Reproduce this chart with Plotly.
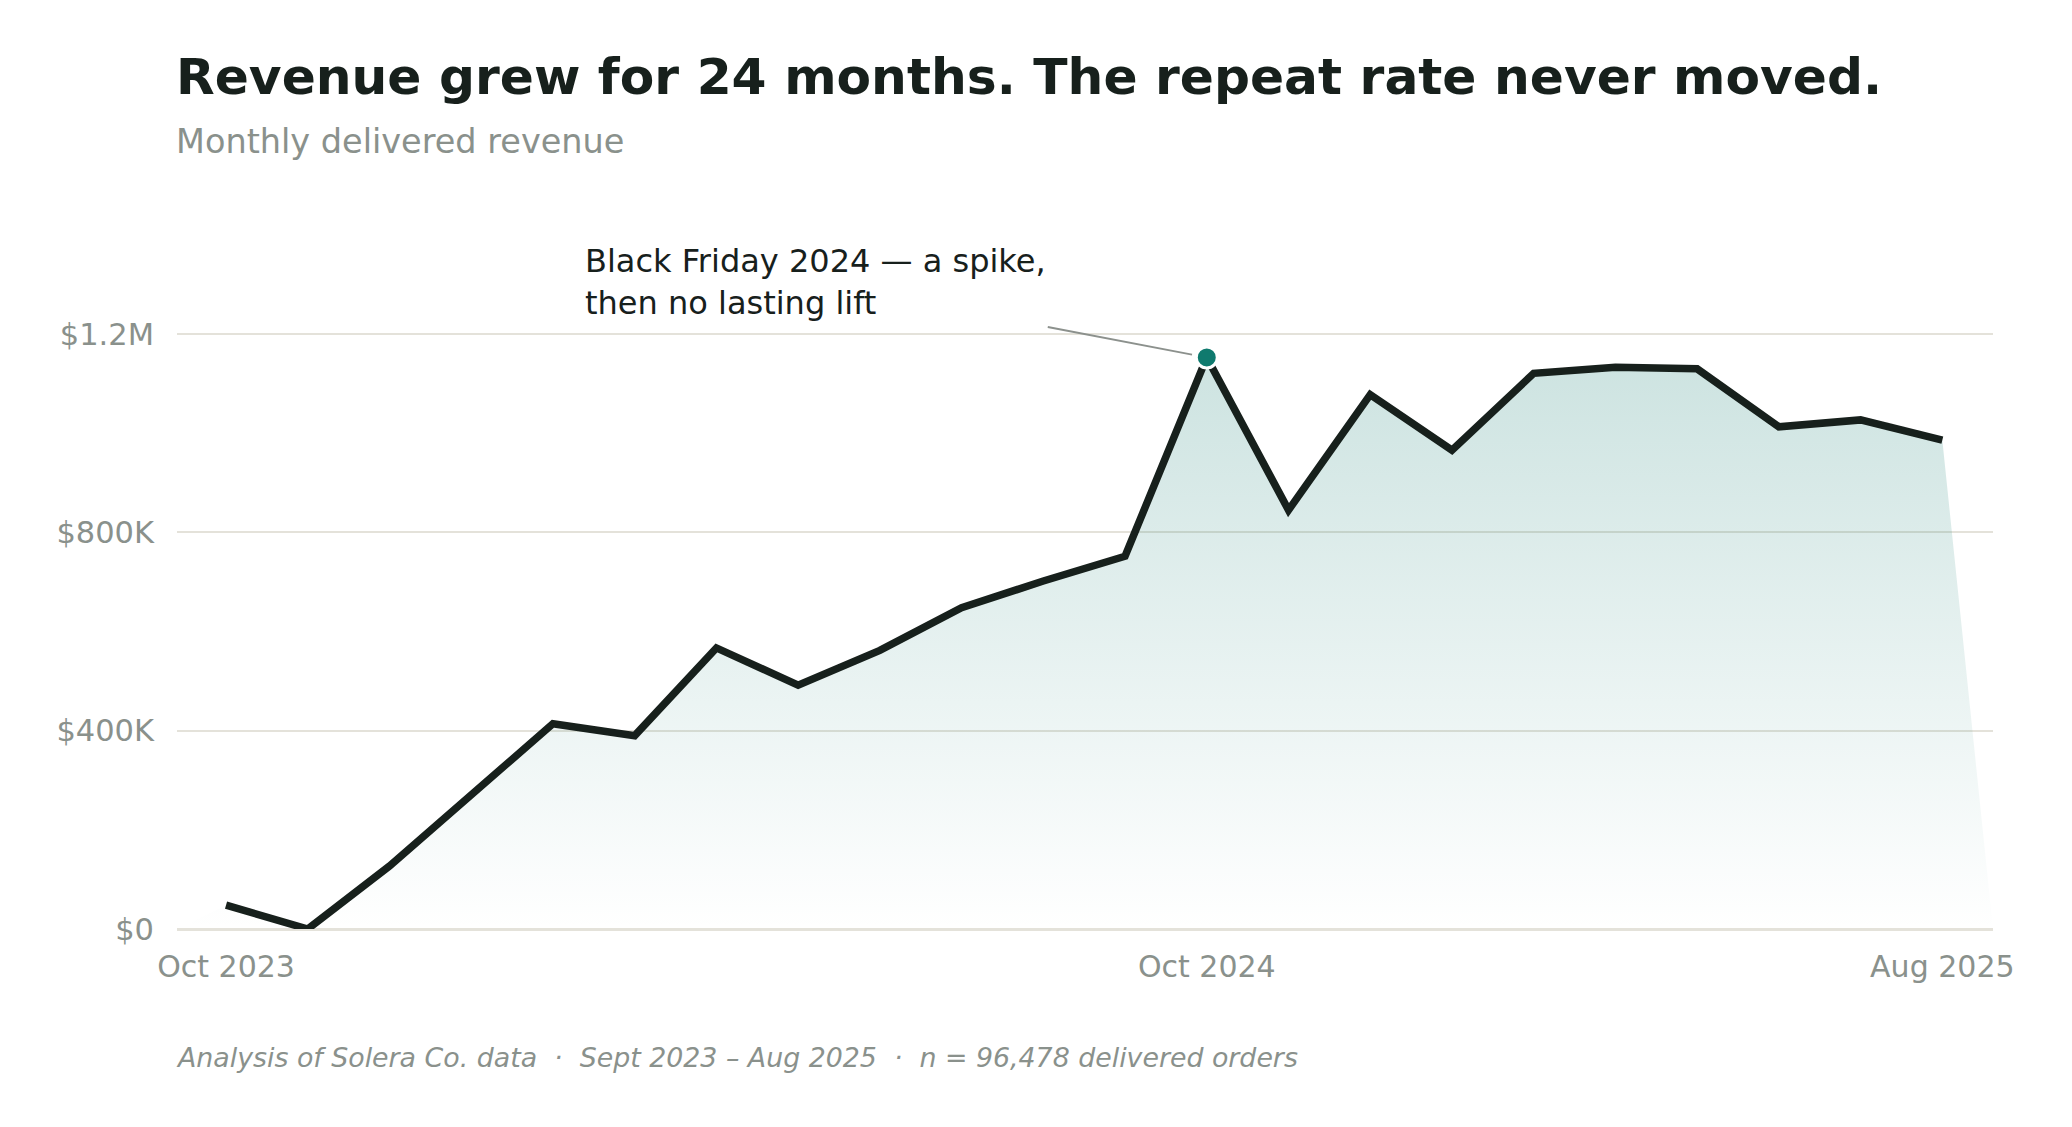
import numpy as np
import plotly.graph_objects as go

# ---- data (monthly delivered revenue, USD) ----
revenue = [48000, 0, 127000, 271000, 414000, 390000, 567000, 492000, 562000,
           648000, 702000, 752000, 1153000, 845000, 1078000, 966000, 1121000,
           1133000, 1130000, 1013000, 1027000, 986000]
tick_positions = [0, 12, 21]
tick_labels = ["Oct 2023", "Oct 2024", "Aug 2025"]
y_ticks = [0, 400000, 800000, 1200000]
y_tick_labels = ["$0", "$400K", "$800K", "$1.2M"]

title = "Revenue grew for 24 months. The repeat rate never moved."
subtitle = "Monthly delivered revenue"
note = "Black Friday 2024 — a spike,<br>then no lasting lift"
footer = ("Analysis of Solera Co. data &nbsp;·&nbsp; Sept 2023 – Aug 2025 "
          "&nbsp;·&nbsp; n = 96,478 delivered orders")

# ---- styling ----
W, H = 2072, 1127
ML, MR, MT, MB = 177, 79, 235, 198
XR = [-0.6, 21.62]
YR = [0, 1400000]
FONT = "DejaVu Sans"
INK = "#17201c"
GREY = "#8a918c"
GRID = "#e4e2da"
TEAL = "#0f7a6e"

x = list(range(len(revenue)))
peak = int(np.argmax(revenue))

plot_w = W - ML - MR
plot_h = H - MT - MB


def py(px):
    """pixel row (from top of figure) -> paper y"""
    return (H - MB - px) / plot_h


def pxx(px):
    """pixel column -> paper x"""
    return (px - ML) / plot_w


fig = go.Figure()

# gradient area (closed to the baseline at both plot edges)
fig.add_trace(go.Scatter(
    x=[XR[0]] + x + [XR[1]],
    y=[0] + revenue + [0],
    mode="lines", line=dict(width=0),
    fill="toself",
    fillgradient=dict(type="vertical", start=0, stop=max(revenue),
                      colorscale=[[0, "rgba(15,122,110,0.0)"],
                                  [1, "rgba(15,122,110,0.21)"]]),
    hoverinfo="skip", showlegend=False,
))

# revenue line
fig.add_trace(go.Scatter(
    x=x, y=revenue, mode="lines",
    line=dict(color=INK, width=7.5),
    showlegend=False,
))

# highlighted peak
fig.add_trace(go.Scatter(
    x=[x[peak]], y=[revenue[peak]], mode="markers",
    marker=dict(color=TEAL, size=21, line=dict(color="white", width=3)),
    cliponaxis=False, showlegend=False,
))

fig.update_layout(
    width=W, height=H,
    margin=dict(l=ML, r=MR, t=MT, b=MB),
    paper_bgcolor="white", plot_bgcolor="white",
    font=dict(family=FONT, color=GREY, size=30),
    xaxis=dict(range=XR, tickvals=tick_positions, ticktext=tick_labels,
               showgrid=False, zeroline=False, showline=False, ticks="",
               ticklabelstandoff=17,
               tickfont=dict(size=30, color=GREY, family=FONT)),
    yaxis=dict(range=YR, tickvals=y_ticks, ticktext=y_tick_labels,
               showgrid=True, gridcolor=GRID, gridwidth=2,
               zeroline=True, zerolinecolor=GRID, zerolinewidth=3,
               showline=False, ticks="", ticklabelstandoff=22,
               tickfont=dict(size=30.5, color=GREY, family=FONT)),
    annotations=[
        dict(text=f"<b>{title}</b>", xref="paper", yref="paper",
             x=pxx(174), y=py(76), xanchor="left", yanchor="middle",
             showarrow=False, font=dict(size=50.3, color=INK, family=FONT)),
        dict(text=subtitle, xref="paper", yref="paper",
             x=pxx(174), y=py(141), xanchor="left", yanchor="middle",
             showarrow=False, font=dict(size=33.5, color=GREY, family=FONT)),
        dict(text=f"<i>{footer}</i>", xref="paper", yref="paper",
             x=pxx(174), y=py(1057), xanchor="left", yanchor="middle",
             showarrow=False, font=dict(size=26.8, color=GREY, family=FONT)),
        dict(text=note, x=x[peak], y=revenue[peak], xref="x", yref="y",
             ax=-391, ay=-75, align="left",
             showarrow=True, arrowhead=0, arrowwidth=2, arrowcolor="#8c918d",
             standoff=15, borderpad=4,
             font=dict(size=32, color=INK, family=FONT)),
    ],
)

fig.write_html("out.html")
